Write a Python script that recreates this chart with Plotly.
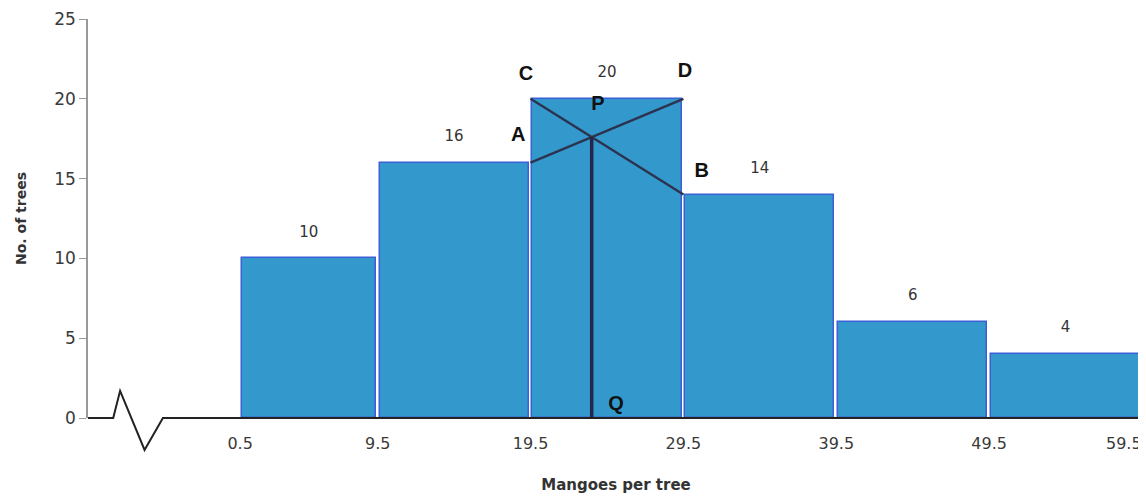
"""Histogram of mangoes per tree with the mode construction (lines AD, CB, PQ)."""
import plotly.graph_objects as go

# Class edges and frequencies
edges = [0.5, 9.5, 19.5, 29.5, 39.5, 49.5, 59.5]
freqs = [10, 16, 20, 14, 6, 4]
edge_labels = ["0.5", "9.5", "19.5", "29.5", "39.5", "49.5", "59.5"]

# Modal class construction points (modal class 19.5-29.5)
modal_lo, modal_hi = 19.5, 29.5
f0, f1, f2 = 16, 20, 14

# Letter labels: (text, x, y)
letter_text = ["C", "D", "A", "B", "P", "Q"]
letter_x = [19.2, 29.6, 18.7, 30.7, 23.9, 25.1]
letter_y = [21.5, 21.7, 17.7, 15.4, 19.6, 0.8]

# Axis-break zigzag on the baseline (data units)
break_x = [-7.8, -7.35, -5.75, -4.55]
break_y = [0, 1.7, -2.0, 0]

X_RANGE = [-9.45, 59.63]
Y_RANGE = [0, 25]
BAR = "#3399cc"
EDGE = "#3d5fd6"
TICK_FONT = {"family": "DejaVu Sans", "size": 16, "color": "#3a3a3a"}

mids = [(a + b) / 2 for a, b in zip(edges[:-1], edges[1:])]
widths = [(b - a) - 0.25 for a, b in zip(edges[:-1], edges[1:])]

fig = go.Figure()
fig.add_trace(go.Bar(
    x=mids, y=freqs, width=widths,
    marker={"color": BAR, "line": {"color": EDGE, "width": 1.5}},
    showlegend=False, hoverinfo="skip",
))

# frequency labels above each bar
fig.add_trace(go.Scatter(
    x=mids, y=[f + 1.6 for f in freqs], mode="text",
    text=[str(f) for f in freqs],
    textfont={"family": "DejaVu Sans", "size": 15, "color": "#333333"},
    showlegend=False, hoverinfo="skip",
))

# intersection P of AD and CB
t = (f1 - f0) / ((f1 - f0) + (f1 - f2)) * (modal_hi - modal_lo)
px = modal_lo + t
py = f0 + (f1 - f0) * t / (modal_hi - modal_lo)

line_style = {"color": "#2b3350", "width": 2.5}
fig.add_trace(go.Scatter(x=[modal_lo, modal_hi], y=[f0, f1], mode="lines",
                         line=line_style, showlegend=False, hoverinfo="skip"))
fig.add_trace(go.Scatter(x=[modal_lo, modal_hi], y=[f1, f2], mode="lines",
                         line=line_style, showlegend=False, hoverinfo="skip"))
fig.add_trace(go.Scatter(x=[px, px], y=[py, 0], mode="lines",
                         line={"color": "#26264a", "width": 3.5},
                         showlegend=False, hoverinfo="skip"))

fig.add_trace(go.Scatter(
    x=letter_x, y=letter_y, mode="text", text=letter_text,
    textfont={"family": "Liberation Sans", "size": 20, "color": "#111111"},
    texttemplate="<b>%{text}</b>",
    showlegend=False, hoverinfo="skip", cliponaxis=False,
))


# baseline with the axis-break zigzag, drawn in paper coords so it can dip below 0
def _px(x):
    return (x - X_RANGE[0]) / (X_RANGE[1] - X_RANGE[0])


def _py(y):
    return (y - Y_RANGE[0]) / (Y_RANGE[1] - Y_RANGE[0])


pts = [(X_RANGE[0], 0)] + list(zip(break_x, break_y)) + [(X_RANGE[1], 0)]
path = "M " + " L ".join(f"{_px(x):.5f},{_py(y):.5f}" for x, y in pts)
fig.add_shape(type="path", path=path, xref="paper", yref="paper",
              line={"color": "#222222", "width": 2})

# last edge label would run off the page: right-align it to its edge instead
fig.add_annotation(x=edges[-1], y=0, text=edge_labels[-1], showarrow=False,
                   xanchor="right", yanchor="middle", xshift=2, yshift=-25,
                   font=TICK_FONT)

# the page body keeps its 8px default margin, so size the figure to fit inside
fig.update_layout(
    width=1138, height=491,
    margin={"l": 80, "r": 2, "t": 11, "b": 81},
    paper_bgcolor="white", plot_bgcolor="white",
    bargap=0,
    font={"family": "DejaVu Sans", "color": "#333333"},
    xaxis={
        "range": X_RANGE, "showgrid": False, "zeroline": False,
        "showline": False, "tickvals": edges[:-1], "ticktext": edge_labels[:-1],
        "ticks": "", "ticklabelstandoff": 14, "automargin": False,
        "tickfont": TICK_FONT,
        "title": {"text": "<b>Mangoes per tree</b>", "standoff": 27,
                  "font": {"size": 15, "color": "#333333"}},
    },
    yaxis={
        "range": Y_RANGE, "dtick": 5, "showgrid": False, "zeroline": False,
        "showline": True, "linecolor": "#999999", "linewidth": 1.5,
        "ticks": "outside", "ticklen": 7, "tickcolor": "#999999",
        "automargin": False,
        "tickfont": {"size": 17, "color": "#3a3a3a"},
        "title": {"text": "<b>No. of trees</b>", "standoff": 24,
                  "font": {"size": 14, "color": "#333333"}},
    },
)

fig.write_html("out.html")
